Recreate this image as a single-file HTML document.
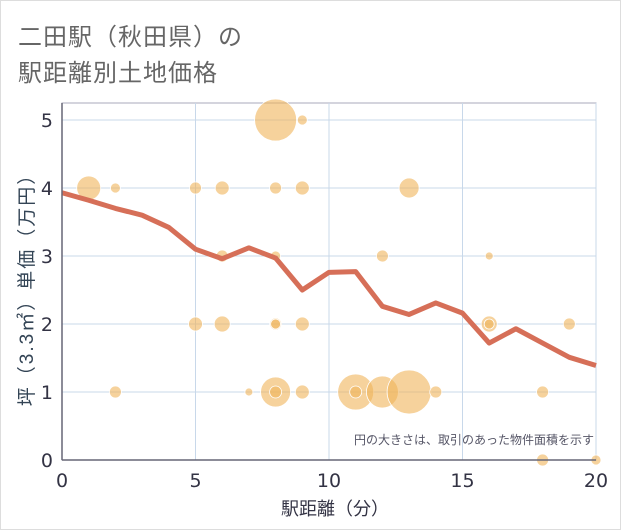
<!DOCTYPE html>
<html><head><meta charset="utf-8"><style>
body{margin:0;background:#fff;}
#wrap{position:relative;width:619px;height:528px;border:1px solid #ddd;background:#fff;font-family:"Liberation Sans","Noto Sans CJK JP",sans-serif;}
.title{position:absolute;left:17px;font-size:24px;color:#666;letter-spacing:1px;}
</style></head><body>
<div id="wrap">
<div class="title" style="top:16px">二田駅（秋田県）の</div>
<div class="title" style="top:52px">駅距離別土地価格</div>
<svg id="chart" width="621" height="530" style="position:absolute;left:-1px;top:-1px"></svg>
</div>
<script>
const bubbleX=[8,9,1,2,5,6,8,9,13,6,8,12,16,5,6,8,8,9,16,16,19,2,7,8,8,9,11,11,12,13,14,18,18,20];
const bubbleY=[5,5,4,4,4,4,4,4,4,3,3,3,3,2,2,2,2,2,2,2,2,1,1,1,1,1,1,1,1,1,1,1,0,0];
const bubbleSize=[21,5,12,5,6,7,6,7,10,6,5,6,4,7,8,6,5,7,8,5,6,6,4,15,6,7,18,6,16,22,6,6,6,5];
const lineX=[0,1,2,3,4,5,6,7,8,9,10,11,12,13,14,15,16,17,18,19,20];
const lineY=[3.93,3.82,3.7,3.6,3.42,3.1,2.96,3.12,2.97,2.5,2.76,2.77,2.26,2.14,2.31,2.16,1.72,1.93,1.72,1.51,1.39];
const xTicks=[0,5,10,15,20];
const yTicks=[0,1,2,3,4,5];
const NS="http://www.w3.org/2000/svg";
const svg=document.getElementById('chart');
const L=62,R=596,T=103,B=460;
const sx=v=>L+(R-L)*v/20, sy=v=>B-(B-120)*v/5;
function mk(t,a){const e=document.createElementNS(NS,t);for(const k in a)e.setAttribute(k,a[k]);svg.appendChild(e);return e;}
const bg=mk('rect',{x:L,y:T,width:R-L,height:B-T,fill:'#fff',stroke:'#aab',"stroke-width":1});


xTicks.forEach(v=>{const g=mk('line',{x1:sx(v),x2:sx(v),y1:T,y2:B,stroke:'#c8d8ea',"stroke-width":1});

});
yTicks.forEach(v=>{const g=mk('line',{x1:L,x2:R,y1:sy(v),y2:sy(v),stroke:'#c8d8ea',"stroke-width":1});

});
bubbleX.forEach((x,i)=>{const c=mk('circle',{cx:sx(x),cy:sy(bubbleY[i]),r:bubbleSize[i],fill:'rgba(240,180,90,0.6)',stroke:'#fff',"stroke-width":0.8});

});
const p=mk('polyline',{points:lineX.map((x,i)=>sx(x)+','+sy(lineY[i])).join(' '),fill:'none',stroke:'#d66f58',"stroke-width":5,"stroke-linejoin":"round"});


const ax=mk('line',{x1:L,x2:R,y1:B,y2:B,stroke:'#667',"stroke-width":1.5});


const ay=mk('line',{x1:L,x2:L,y1:T,y2:B,stroke:'#667',"stroke-width":1.5});


xTicks.forEach(v=>{const t=mk('text',{x:sx(v),y:487,"text-anchor":"middle","font-size":19,fill:'#334',"font-family":"DejaVu Sans, sans-serif"});t.textContent=v;

});
yTicks.forEach(v=>{const t=mk('text',{x:53,y:sy(v)+7,"text-anchor":"end","font-size":19,fill:'#334',"font-family":"DejaVu Sans, sans-serif"});t.textContent=v;

});
const xt=mk('text',{x:335,y:515,"text-anchor":"middle","font-size":18,fill:'#334'});xt.textContent='駅距離（分）';


const yt=mk('text',{x:0,y:0,"text-anchor":"middle","font-size":19,fill:'#345',"letter-spacing":"2",transform:'translate(33,285) rotate(-90)'});yt.textContent='坪（3.3㎡）単価（万円）';


const n=mk('text',{x:594,y:444,"text-anchor":"end","font-size":12,fill:'#556'});n.textContent='円の大きさは、取引のあった物件面積を示す';


</script>
</body></html>
